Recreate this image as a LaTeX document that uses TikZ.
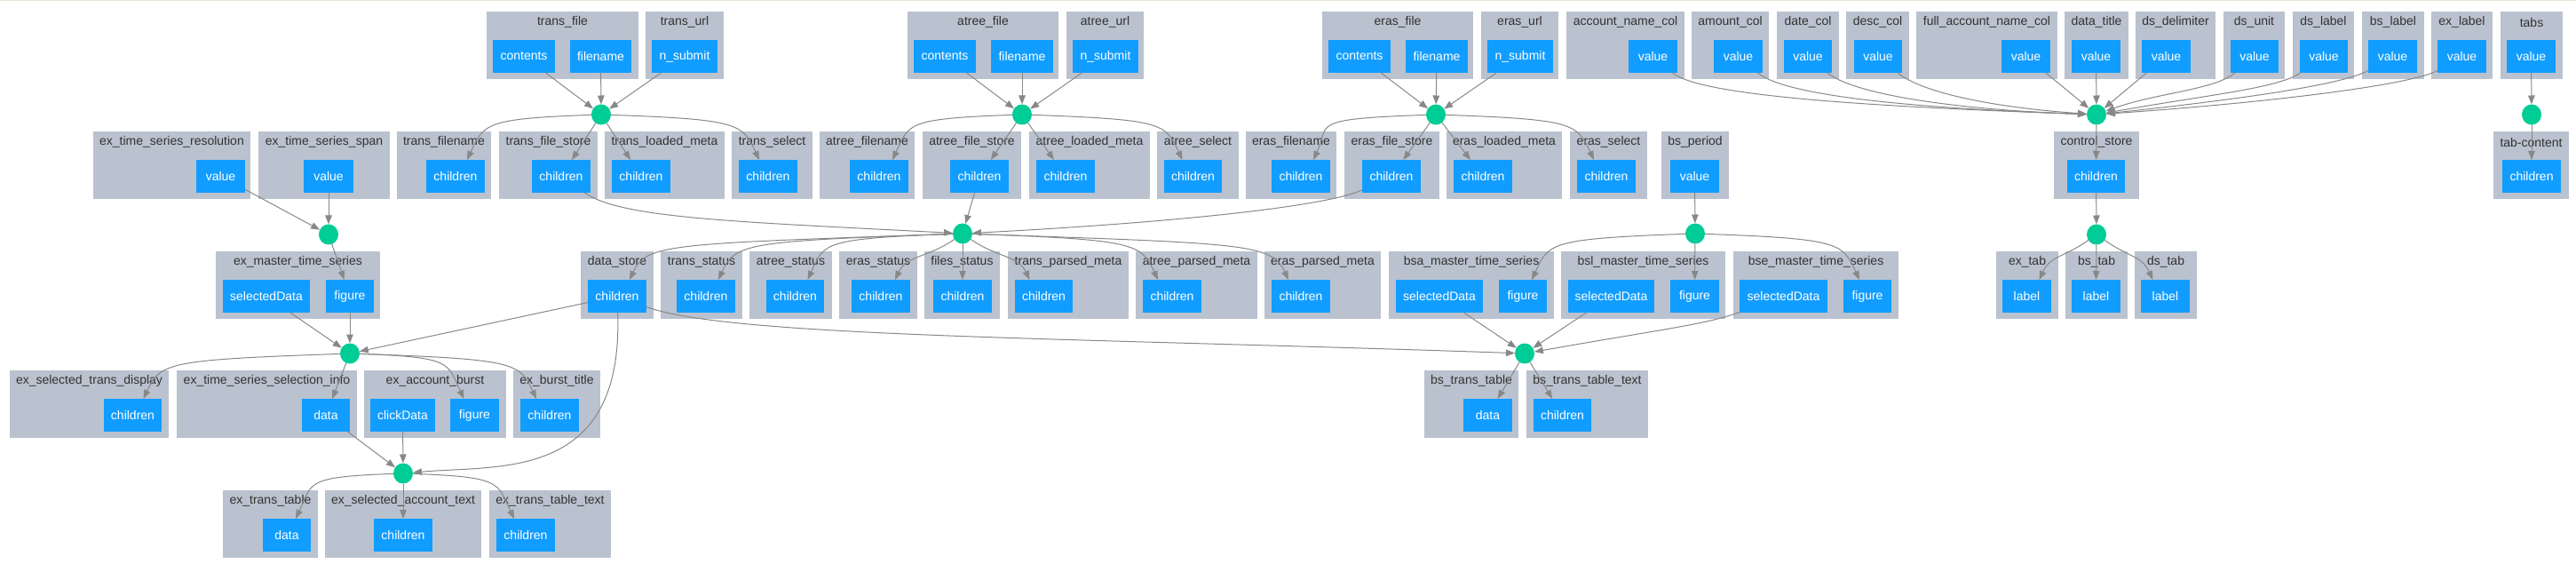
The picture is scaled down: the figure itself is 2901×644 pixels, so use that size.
\documentclass[tikz,border=0pt]{standalone}
\usepackage{fontspec}
\setmainfont{Liberation Sans}
\usetikzlibrary{arrows.meta,shapes.geometric}
\definecolor{clusgray}{RGB}{186,194,207}
\definecolor{portblue}{RGB}{17,157,255}
\definecolor{cbgreen}{RGB}{0,204,150}
\definecolor{edgegray}{RGB}{136,136,136}
\definecolor{titlegray}{RGB}{50,50,50}
\definecolor{topline}{RGB}{230,228,214}
\newcommand\clus[5]{\node[clusbox,minimum width={#3-#2}] (#1) at (#2,-#4) {};
  \node[ctitle] (#1-t) at ([yshift=-12pt]#1.north) {#5};}
\newcommand\port[5]{\node[portbox,minimum width={#3-#2}] (#1) at (#2,-#4-32) {#5};}
\newcommand\outL[4]{\draw[cbedge] (#1) to[out=182,in=65,out distance=#4,in distance=45] ([xshift=#3pt]#2.north);}
\newcommand\outR[4]{\draw[cbedge] (#1) to[out=-2,in=115,out distance=#4,in distance=45] ([xshift=#3pt]#2.north);}
\newcommand\midL[3]{\draw[cbedge] (#1) to[out=215,in=65,out distance=35,in distance=30] ([xshift=#3pt]#2.north);}
\newcommand\midR[3]{\draw[cbedge] (#1) to[out=-35,in=115,out distance=35,in distance=30] ([xshift=#3pt]#2.north);}
\begin{document}
\begin{tikzpicture}[x=1pt,y=1pt,
  clusbox/.style={rectangle,fill=clusgray,draw=none,inner sep=0pt,outer sep=0pt,anchor=north west,minimum height=76pt},
  ctitle/.style={text=titlegray,inner sep=0pt,font=\fontsize{14}{16}\selectfont},
  portbox/.style={rectangle,fill=portblue,text=white,draw=none,inner sep=0pt,outer sep=0pt,anchor=north west,minimum height=37pt,font=\fontsize{14}{16}\selectfont},
  cb/.style={ellipse,fill=cbgreen,draw=none,inner sep=0pt,outer sep=0pt,minimum width=22pt,minimum height=23pt},
  cbedge/.style={draw=edgegray,line width=1pt,-{Triangle[length=10pt,width=7.5pt]}}]
\useasboundingbox (0,0) rectangle (2901,-644);
\fill[topline] (0,0) rectangle (2901,-1.5);
% ---------- row A ----------
\clus{ktf}{548}{719}{13}{trans\_file}
\port{tfC}{555}{625}{13}{contents}
\port{tfF}{642}{711}{13}{filename}
\clus{ktu}{727}{815}{13}{trans\_url}
\port{tuN}{734}{808}{13}{n\_submit}
\clus{kaf}{1022}{1192}{13}{atree\_file}
\port{afC}{1029}{1099}{13}{contents}
\port{afF}{1116}{1186}{13}{filename}
\clus{kau}{1201}{1288}{13}{atree\_url}
\port{auN}{1208}{1282}{13}{n\_submit}
\clus{kef}{1489}{1659}{13}{eras\_file}
\port{efC}{1496}{1566}{13}{contents}
\port{efF}{1583}{1653}{13}{filename}
\clus{keu}{1668}{1755}{13}{eras\_url}
\port{euN}{1675}{1749}{13}{n\_submit}
\clus{kanc}{1764}{1897}{13}{account\_name\_col}
\port{ancV}{1834}{1889}{13}{value}
\clus{kamc}{1905}{1992}{13}{amount\_col}
\port{amcV}{1930}{1985}{13}{value}
\clus{kdc}{2001}{2071}{13}{date\_col}
\port{dcV}{2009}{2063}{13}{value}
\clus{kdesc}{2079}{2150}{13}{desc\_col}
\port{descV}{2088}{2142}{13}{value}
\clus{kfanc}{2158}{2317}{13}{full\_account\_name\_col}
\port{fancV}{2254}{2309}{13}{value}
\clus{kdt}{2325}{2397}{13}{data\_title}
\port{dtV}{2333}{2388}{13}{value}
\clus{kdd}{2405}{2495}{13}{ds\_delimiter}
\port{ddV}{2412}{2467}{13}{value}
\clus{kdu}{2504}{2573}{13}{ds\_unit}
\port{duV}{2512}{2566}{13}{value}
\clus{kdl}{2582}{2651}{13}{ds\_label}
\port{dlV}{2590}{2644}{13}{value}
\clus{kbl}{2660}{2730}{13}{bs\_label}
\port{blV}{2667}{2722}{13}{value}
\clus{kel}{2738}{2807}{13}{ex\_label}
\port{elV}{2745}{2800}{13}{value}
\clus{ktabs}{2816}{2886}{13}{tabs}
\port{tabsV}{2823}{2878}{13}{value}
% ---------- row B ----------
\clus{ktsr}{105}{282}{148}{ex\_time\_series\_resolution}
\port{tsrV}{221}{276}{148}{value}
\clus{ktss}{291}{439}{148}{ex\_time\_series\_span}
\port{tssV}{342}{398}{148}{value}
\clus{ktfn}{447}{553}{148}{trans\_filename}
\port{tfnC}{480}{546}{148}{children}
\clus{ktfs}{562}{673}{148}{trans\_file\_store}
\port{tfsC}{599}{665}{148}{children}
\clus{ktlm}{681}{816}{148}{trans\_loaded\_meta}
\port{tlmC}{689}{755}{148}{children}
\clus{ktsel}{824}{915}{148}{trans\_select}
\port{tselC}{832}{898}{148}{children}
\clus{kafn}{923}{1030}{148}{atree\_filename}
\port{afnC}{957}{1023}{148}{children}
\clus{kafs}{1039}{1150}{148}{atree\_file\_store}
\port{afsC}{1070}{1136}{148}{children}
\clus{kalm}{1159}{1295}{148}{atree\_loaded\_meta}
\port{almC}{1167}{1233}{148}{children}
\clus{kasel}{1303}{1395}{148}{atree\_select}
\port{aselC}{1311}{1376}{148}{children}
\clus{kefn}{1403}{1505}{148}{eras\_filename}
\port{efnC}{1432}{1498}{148}{children}
\clus{kefs}{1514}{1621}{148}{eras\_file\_store}
\port{efsC}{1534}{1600}{148}{children}
\clus{kelm}{1629}{1759}{148}{eras\_loaded\_meta}
\port{elmC}{1637}{1703}{148}{children}
\clus{kesel}{1768}{1855}{148}{eras\_select}
\port{eselC}{1776}{1842}{148}{children}
\clus{kbsp}{1871}{1947}{148}{bs\_period}
\port{bspV}{1881}{1936}{148}{value}
\clus{kcs}{2313}{2409}{148}{control\_store}
\port{csC}{2328}{2393}{148}{children}
\clus{ktc}{2808}{2893}{148}{tab-content}
\port{tcC}{2818}{2884}{148}{children}
% ---------- row C ----------
\clus{kemts}{243}{428}{283}{ex\_master\_time\_series}
\port{emSD}{251}{349}{283}{selectedData}
\port{emF}{367}{421}{283}{figure}
\clus{kds}{654}{736}{283}{data\_store}
\port{dsC}{662}{728}{283}{children}
\clus{kts}{744}{836}{283}{trans\_status}
\port{tsC}{762}{828}{283}{children}
\clus{kats}{844}{937}{283}{atree\_status}
\port{atsC}{863}{928}{283}{children}
\clus{kers}{945}{1033}{283}{eras\_status}
\port{ersC}{959}{1025}{283}{children}
\clus{kfs}{1041}{1126}{283}{files\_status}
\port{fsC}{1051}{1117}{283}{children}
\clus{ktpm}{1135}{1271}{283}{trans\_parsed\_meta}
\port{tpmC}{1143}{1208}{283}{children}
\clus{kapm}{1279}{1416}{283}{atree\_parsed\_meta}
\port{apmC}{1287}{1353}{283}{children}
\clus{kepm}{1424}{1555}{283}{eras\_parsed\_meta}
\port{epmC}{1432}{1498}{283}{children}
\clus{kbsa}{1564}{1750}{283}{bsa\_master\_time\_series}
\port{bsaSD}{1572}{1670}{283}{selectedData}
\port{bsaF}{1688}{1742}{283}{figure}
\clus{kbsl}{1758}{1943}{283}{bsl\_master\_time\_series}
\port{bslSD}{1766}{1863}{283}{selectedData}
\port{bslF}{1881}{1936}{283}{figure}
\clus{kbse}{1952}{2138}{283}{bse\_master\_time\_series}
\port{bseSD}{1959}{2058}{283}{selectedData}
\port{bseF}{2076}{2130}{283}{figure}
\clus{kext}{2248}{2318}{283}{ex\_tab}
\port{extL}{2255}{2310}{283}{label}
\clus{kbst}{2326}{2396}{283}{bs\_tab}
\port{bstL}{2333}{2388}{283}{label}
\clus{kdst}{2404}{2474}{283}{ds\_tab}
\port{dstL}{2411}{2466}{283}{label}
% ---------- row D ----------
\clus{kestd}{11}{190}{417}{ex\_selected\_trans\_display}
\port{estdC}{117}{182}{417}{children}
\clus{ktssi}{199}{402}{417}{ex\_time\_series\_selection\_info}
\port{tssiD}{340}{394}{417}{data}
\clus{keab}{410}{570}{417}{ex\_account\_burst}
\port{eabCD}{417}{490}{417}{clickData}
\port{eabF}{507}{562}{417}{figure}
\clus{kebt}{578}{676}{417}{ex\_burst\_title}
\port{ebtC}{586}{652}{417}{children}
\clus{kbstt}{1604}{1710}{417}{bs\_trans\_table}
\port{bsttD}{1648}{1703}{417}{data}
\clus{kbsttt}{1719}{1856}{417}{bs\_trans\_table\_text}
\port{bstttC}{1727}{1792}{417}{children}
% ---------- row E ----------
\clus{kett}{251}{358}{552}{ex\_trans\_table}
\port{ettD}{296}{350}{552}{data}
\clus{kesat}{366}{542}{552}{ex\_selected\_account\_text}
\port{esatC}{421}{487}{552}{children}
\clus{kettt}{551}{688}{552}{ex\_trans\_table\_text}
\port{etttC}{559}{625}{552}{children}
% ---------- callbacks ----------
\node[cb] (cbT) at (677,-129) {};
\node[cb] (cbA) at (1151,-129) {};
\node[cb] (cbE) at (1617,-129) {};
\node[cb] (cbC) at (2361,-129) {};
\node[cb] (cbTb) at (2851,-129) {};
\node[cb] (cbM) at (370,-264) {};
\node[cb] (cbD) at (1084,-263) {};
\node[cb] (cbP) at (1909,-263) {};
\node[cb] (cbCS) at (2361,-264) {};
\node[cb] (cb3) at (394,-398) {};
\node[cb] (cbB) at (1717,-398) {};
\node[cb] (cb4) at (454,-533) {};
% ---------- straight inputs ----------
\foreach \a/\b in {tfC/cbT,tfF/cbT,tuN/cbT,afC/cbA,afF/cbA,auN/cbA,efC/cbE,efF/cbE,euN/cbE,
  fancV/cbC,dtV/cbC,ddV/cbC,tabsV/cbTb,tsrV/cbM,tssV/cbM,afsC/cbD,bspV/cbP,csC/cbCS,
  emSD/cb3,emF/cb3,dsC/cb3,bsaSD/cbB,bslSD/cbB,tssiD/cb4,eabCD/cb4}
  {\draw[cbedge] (\a) -- (\b);}
% ---------- curved inputs ----------
\draw[cbedge] (ancV) to[out=-40,in=178,out distance=40,in distance=250] (cbC);
\draw[cbedge] (amcV) to[out=-40,in=178,out distance=40,in distance=200] (cbC);
\draw[cbedge] (dcV) to[out=-40,in=178,out distance=35,in distance=160] (cbC);
\draw[cbedge] (descV) to[out=-40,in=176,out distance=30,in distance=120] (cbC);
\draw[cbedge] (duV) to[out=220,in=20,out distance=30,in distance=60] (cbC);
\draw[cbedge] (dlV) to[out=215,in=10,out distance=30,in distance=120] (cbC);
\draw[cbedge] (blV) to[out=210,in=6,out distance=30,in distance=160] (cbC);
\draw[cbedge] (elV) to[out=210,in=4,out distance=30,in distance=200] (cbC);
\draw[cbedge] (tfsC) to[out=-35,in=177,out distance=50,in distance=250] (cbD);
\draw[cbedge] (efsC) to[out=205,in=3,out distance=40,in distance=250] (cbD);
\draw[cbedge] (dsC) to[out=-20,in=178,out distance=100,in distance=500] (cbB);
\draw[cbedge] (dsC) to[out=-88,in=5,out distance=190,in distance=100] (cb4);
\draw[cbedge] (bseSD) to[out=200,in=10,out distance=40,in distance=150] (cbB);
% ---------- straight outputs ----------
\foreach \a/\b in {cbT/tfsC,cbT/tlmC,cbA/afsC,cbA/almC,cbE/efsC,cbE/elmC,cbC/csC,cbTb/tcC,
  cbM/emF,cbD/fsC,cbP/bslF,cbCS/bstL,cb3/tssiD,cbB/bsttD,cbB/bstttC,cb4/esatC}
  {\draw[cbedge] (\a) -- (\b);}
% ---------- curved outputs ----------
\outL{cbT}{tfnC}{13}{120}
\outR{cbT}{tselC}{-10}{145}
\outL{cbA}{afnC}{15}{120}
\outR{cbA}{aselC}{-12}{150}
\outL{cbE}{efnC}{14}{135}
\outR{cbE}{eselC}{-14}{145}
\outL{cbD}{dsC}{14}{320}
\outL{cbD}{tsC}{14}{235}
\outL{cbD}{atsC}{14}{150}
\midL{cbD}{ersC}{16}
\midR{cbD}{tpmC}{-16}
\outR{cbD}{apmC}{-16}{185}
\outR{cbD}{epmC}{-14}{310}
\outL{cbP}{bsaF}{10}{155}
\outR{cbP}{bseF}{-9}{155}
\midL{cbCS}{extL}{14}
\midR{cbCS}{dstL}{-14}
\outL{cb3}{estdC}{12}{195}
\outR{cb3}{eabF}{-12}{105}
\outR{cb3}{ebtC}{-15}{175}
\outL{cb4}{ettD}{10}{100}
\outR{cb4}{etttC}{-13}{100}
\end{tikzpicture}
\end{document}
